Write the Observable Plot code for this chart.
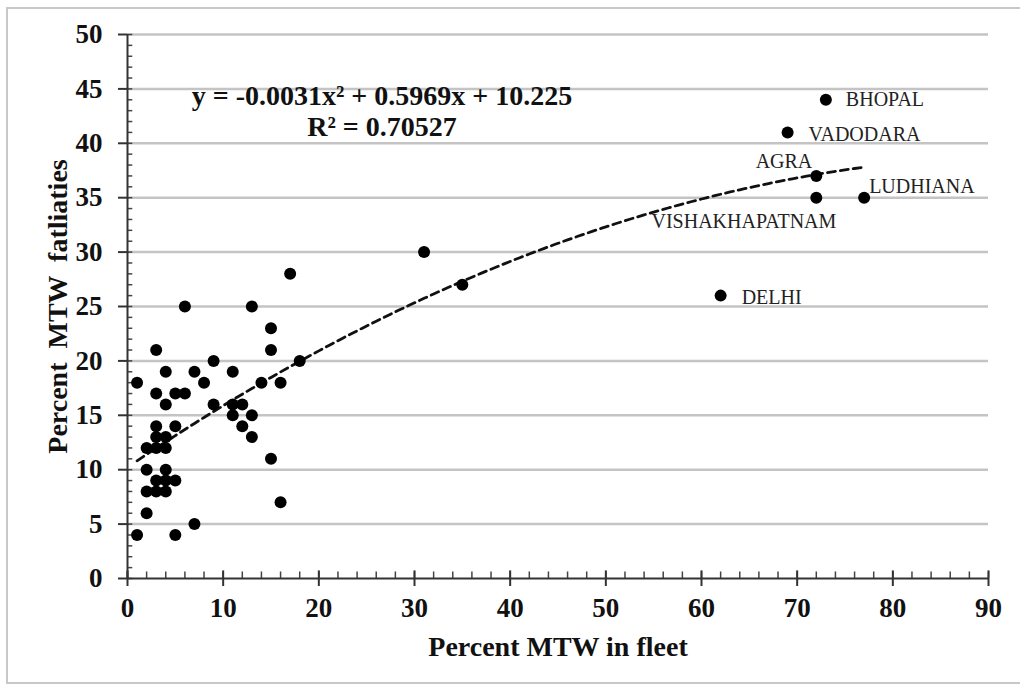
<!DOCTYPE html>
<html>
<head>
<meta charset="utf-8">
<script src="https://cdn.jsdelivr.net/npm/d3@7"></script>
<script src="https://cdn.jsdelivr.net/npm/@observablehq/plot@0.6"></script>
<style>
  html, body { margin: 0; padding: 0; background: #fff; overflow: hidden; }
  #wrap { position: relative; width: 1020px; height: 687px; overflow: hidden; }
  #border { position: absolute; left: 6px; top: 7px; width: 1040px; height: 677px;
            border: 2px solid #c8c8c8; box-sizing: border-box; }
  #chart { position: absolute; left: 0; top: 0; }
  svg text { white-space: pre; }
</style>
</head>
<body>
<div id="wrap"><div id="border"></div><div id="chart"></div></div>
<script>
// Percent MTW in fleet (x) and Percent MTW fatalities (y)
const mtwFleet = [1, 1,
  2, 2, 2, 2,
  3, 3, 3, 3, 3, 3, 3,
  4, 4, 4, 4, 4, 4, 4,
  5, 5, 5, 5,
  6, 6,
  7, 7,
  8,
  9, 9,
  11, 11, 11,
  12, 12,
  13, 13, 13,
  14,
  15, 15, 15,
  16, 16,
  17,
  18,
  31, 35, 62, 69, 72, 72, 73, 77];
const mtwFatal = [18, 4,
  12, 10, 8, 6,
  21, 17, 14, 13, 12, 9, 8,
  19, 16, 13, 12, 10, 9, 8,
  17, 14, 9, 4,
  25, 17,
  19, 5,
  18,
  20, 16,
  19, 16, 15,
  16, 14,
  25, 15, 13,
  18,
  23, 21, 11,
  18, 7,
  28,
  20,
  30, 27, 26, 41, 37, 35, 44, 35];

// Labelled cities
const cityNames = ["BHOPAL", "VADODARA", "AGRA", "LUDHIANA", "VISHAKHAPATNAM", "DELHI"];
const cityX = [73, 69, 72, 77, 72, 62];
const cityY = [44, 41, 37, 35, 35, 26];

// Polynomial trendline coefficients (as printed on the chart): a x^2 + b x + c
const trendCoef = [-0.0031, 0.5969, 10.225];
const trendRange = [1, 77];

const xTicks = [0, 10, 20, 30, 40, 50, 60, 70, 80, 90];
const yTicks = [0, 5, 10, 15, 20, 25, 30, 35, 40, 45, 50];
const xMinor = d3.range(0, 91, 2);
const yMinor = d3.range(0, 51, 1);

const equationText = "y = -0.0031x² + 0.5969x + 10.225";
const r2Text = "R² = 0.70527";
const xTitle = "Percent MTW in fleet";
const yTitle = "Percent  MTW  fatliaties";

const points = mtwFleet.map((x, i) => ({x, y: mtwFatal[i]}));
const cities = cityNames.map((name, i) => ({name, x: cityX[i], y: cityY[i]}));
const trend = d3.range(trendRange[0], trendRange[1] + 0.001, 0.5)
  .map(x => ({x, y: trendCoef[0] * x * x + trendCoef[1] * x + trendCoef[2]}));

const serif = "'Liberation Serif', 'Times New Roman', serif";
const place = {
  BHOPAL: {textAnchor: "start", dx: 20, dy: 0},
  VADODARA: {textAnchor: "start", dx: 21, dy: 2},
  AGRA: {textAnchor: "end", dx: -4, dy: -14},
  LUDHIANA: {textAnchor: "start", dx: 5, dy: -11},
  VISHAKHAPATNAM: {textAnchor: "end", dx: 20, dy: 24},
  DELHI: {textAnchor: "start", dx: 21, dy: 2}
};

const cityMarks = cityNames.map(n => Plot.text(cities.filter(d => d.name === n), {
  x: "x", y: "y", text: "name",
  textAnchor: place[n].textAnchor, dx: place[n].dx, dy: place[n].dy,
  fontSize: 20, fontFamily: serif, fill: "#222"
}));

const chart = Plot.plot({
  width: 1020,
  height: 687,
  marginLeft: 127,
  marginRight: 32,
  marginTop: 34,
  marginBottom: 109,
  style: {fontFamily: serif, color: "#111", background: "transparent", overflow: "visible"},
  x: {domain: [0, 90], axis: null},
  y: {domain: [0, 50], axis: null},
  marks: [
    Plot.ruleY(yTicks.filter(d => d > 0), {stroke: "#c4c4c4", strokeWidth: 2.5}),
    Plot.ruleY(yMinor, {x1: 0, x2: 0.55, stroke: "#444", strokeWidth: 1.5}),
    Plot.ruleX(xMinor, {y1: 0, y2: 0.6, stroke: "#444", strokeWidth: 1.5}),
    Plot.ruleX(xTicks, {y1: 0, y2: 0.7, stroke: "#333", strokeWidth: 2}),
    Plot.ruleX([0], {stroke: "#333", strokeWidth: 2}),
    Plot.ruleY([0], {stroke: "#333", strokeWidth: 2}),
    Plot.axisY({ticks: yTicks, tickSize: 9, tickPadding: 16, label: null,
      fontSize: 27, fontWeight: "bold", fontFamily: serif, stroke: "#333", strokeWidth: 2, fill: "#111"}),
    Plot.axisX({ticks: xTicks, tickSize: 8, tickPadding: 11, label: null,
      fontSize: 27, fontWeight: "bold", fontFamily: serif, stroke: "#333", strokeWidth: 2, fill: "#111"}),
    Plot.line(trend, {x: "x", y: "y", stroke: "#111", strokeWidth: 2.8, strokeDasharray: "8,5"}),
    Plot.dot(points, {x: "x", y: "y", r: 6, fill: "#000", stroke: "none"}),
    ...cityMarks,
    Plot.text([equationText], {x: 26.6, y: 44.35, text: d => d, fontSize: 28, fontWeight: "bold", fontFamily: serif, fill: "#111"}),
    Plot.text([r2Text], {x: 26.6, y: 41.5, text: d => d, fontSize: 28, fontWeight: "bold", fontFamily: serif, fill: "#111"}),
    Plot.text([xTitle], {frameAnchor: "bottom", textAnchor: "middle", dy: 77, text: d => d, fontSize: 28, fontWeight: "bold", fontFamily: serif, fill: "#111"}),
    Plot.text([yTitle], {frameAnchor: "left", textAnchor: "middle", dx: -69, rotate: -90, text: d => d, fontSize: 28, fontWeight: "bold", fontFamily: serif, fill: "#111"})
  ]
});
document.getElementById("chart").appendChild(chart);
</script>
</body>
</html>
